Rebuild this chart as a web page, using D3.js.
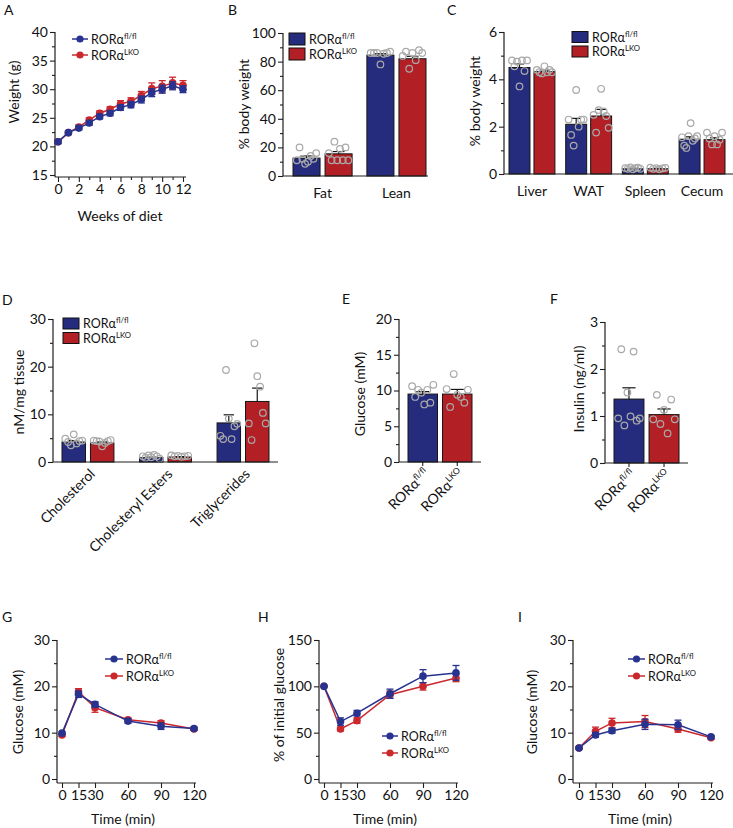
<!DOCTYPE html>
<html><head><meta charset="utf-8">
<script src="https://cdn.jsdelivr.net/npm/d3@7"></script>
<style>
body{margin:0;background:#fff}
svg text{font-family:Lato,"Open Sans",sans-serif;fill:#111}
</style></head><body>
<svg id="fig" width="733" height="828"></svg>
<script>
// ================= DATA =================
// Panel A : body weight over weeks of diet
const weeks = [0,1,2,3,4,5,6,7,8,9,10,11,12];
const weightFl    = [20.8,22.4,23.2,24.1,25.2,25.8,26.8,27.3,28.2,29.4,30.0,30.6,30.0];
const weightFlErr = [0.3,0.3,0.35,0.4,0.4,0.45,0.5,0.55,0.6,0.7,0.7,0.7,0.6];
const weightLko   = [20.8,22.4,23.4,24.6,25.8,26.5,27.4,27.9,28.9,30.1,30.5,31.1,30.7];
const weightLkoErr= [0.3,0.3,0.35,0.4,0.4,0.45,0.6,0.6,0.7,1.0,1.0,1.0,0.8];
const weightXTicks = [0,2,4,6,8,10,12];
const weightYTicks = [15,20,25,30,35,40];

// Panel B : body composition
const compCats = ["Fat","Lean"];
const compFlMean = [12.5,84.5];
const compFlSem  = [1.5,1.0];
const compLkoMean= [15.5,82.0];
const compLkoSem = [1.6,1.7];
const compFlDots = [[11,20,12,8.5,10,14,12,16],[86,86,86,78,85.5,86,87]];
const compLkoDots= [[16,11,24,11,19,11,20,11],[84,87,75,86,81,88,86]];
const compYTicks = [0,20,40,60,80,100];

// Panel C : organ weights
const organCats = ["Liver","WAT","Spleen","Cecum"];
const organFlMean = [4.5,2.1,0.22,1.47];
const organFlSem  = [0.15,0.25,0.02,0.1];
const organLkoMean= [4.33,2.45,0.22,1.45];
const organLkoSem = [0.06,0.28,0.02,0.08];
const organFlDots = [[4.8,4.55,4.75,3.7,4.8,4.35,4.8],[2.3,1.65,1.2,3.55,2.0,2.3,2.3],[0.25,0.22,0.28,0.2,0.25,0.27,0.22],[1.55,1.2,1.1,1.6,2.15,1.4,1.5,1.6]];
const organLkoDots= [[4.4,4.3,4.25,4.55,4.3,4.4,4.3],[2.5,1.75,2.7,3.6,2.65,2.45,1.95],[0.27,0.22,0.25,0.2,0.24,0.26],[1.75,1.5,1.25,1.6,1.25,1.45,1.75]];
const organYTicks = [0,2,4,6];

// Panel D : hepatic lipids
const lipidCats = ["Cholesterol","Cholesteryl Esters","Triglycerides"];
const lipidFlMean = [4.2,0.9,8.2];
const lipidFlSem  = [0.3,0.12,1.7];
const lipidLkoMean= [4.0,1.05,12.7];
const lipidLkoSem = [0.2,0.08,2.8];
const lipidFlDots = [[4.9,4.2,3.5,5.8,3.9,4.4,4.5],[1.2,0.9,1.4,1.0,1.5,1.2,0.7],[5.5,4.8,19.3,9.1,4.8,7.5,8.0]];
const lipidLkoDots= [[4.5,4.4,4.3,3.3,4.0,4.4,4.6],[1.4,1.2,1.3,1.1,1.2,1.3],[8.1,4.6,24.9,18.0,15.8,10.3,8.1]];
const lipidYTicks = [0,10,20,30];

// Panel E : fasting glucose
const glucFlMean = [9.5], glucFlSem = [0.35];
const glucLkoMean= [9.5], glucLkoSem= [0.65];
const glucFlDots = [[10.6,9.1,10.1,9.7,8.05,10.1,8.3,10.8]];
const glucLkoDots= [[10.2,7.7,12.3,9.4,9.1,8.3,10.1]];
const glucYTicks = [0,5,10,15,20];

// Panel F : fasting insulin
const insFlMean = [1.36], insFlSem = [0.24];
const insLkoMean= [1.03], insLkoSem= [0.12];
const insFlDots = [[0.95,2.42,0.8,1.5,0.99,2.37,0.9,0.95]];
const insLkoDots= [[0.93,1.45,0.83,1.13,0.63,1.35,0.93]];
const insYTicks = [0,1,2,3];

// Panels G-I : tolerance tests
const ttTime = [0,15,30,60,90,120];
const gttFl     = [9.9,18.3,16.1,12.5,11.4,10.9];
const gttFlErr  = [0.3,0.7,0.6,0.5,0.7,0.3];
const gttLko    = [9.5,18.8,15.4,12.8,12.1,10.8];
const gttLkoErr = [0.3,0.7,1.0,0.4,0.5,0.3];
const pctFl     = [100,62,71,92,111,114.5];
const pctFlErr  = [0,4,3,5,7,8];
const pctLko    = [100,54,63,91,100,109];
const pctLkoErr = [0,2,3,4,4,4];
const ittFl     = [6.7,9.5,10.4,11.8,11.7,9.1];
const ittFlErr  = [0.2,0.5,0.5,1.1,1.0,0.3];
const ittLko    = [6.7,10.3,12.1,12.4,10.8,8.9];
const ittLkoErr = [0.2,0.9,1.0,1.3,0.7,0.3];
const glucTTYTicks = [0,10,20,30];
const pctYTicks = [0,50,100,150];

const seriesLabels = ["fl/fl","LKO"];

// ================= DRAWING =================
const svg = d3.select("#fig");
const BLUE="#252c7d", RED="#b21f25", LBLUE="#28338f", LRED="#cb282e", AX="#1e1e1e", DOT="#a9a9a9";
const TICKFS=14, LEGFS=12.5;

function mids(t){const r=[];for(let i=0;i<t.length-1;i++)r.push((t[i]+t[i+1])/2);return r;}

function styleAxis(sel){
  sel.selectAll("line").attr("stroke",AX).attr("stroke-width",1.1);
  sel.selectAll("text").attr("font-size",TICKFS).attr("font-family","Lato,'Open Sans',sans-serif").attr("fill","#111");
}

function yAxis(g,y,xPos,major,yEnd){
  const a=g.append("g").attr("transform",`translate(${xPos},0)`)
    .call(d3.axisLeft(y).tickValues(major).tickSize(5).tickSizeOuter(0).tickPadding(2).tickFormat(d3.format("d")));
  a.select(".domain").remove(); styleAxis(a);
  const m=g.append("g").attr("transform",`translate(${xPos},0)`)
    .call(d3.axisLeft(y).tickValues(mids(major)).tickSize(3).tickSizeOuter(0).tickFormat(""));
  m.select(".domain").remove(); styleAxis(m);
  const d=y.domain();
  g.append("line").attr("x1",xPos).attr("x2",xPos).attr("y1",y(d[1])).attr("y2",yEnd!=null?yEnd:y(d[0]))
    .attr("stroke",AX).attr("stroke-width",1.2);
}

function rorText(sel,sup,fs){
  sel.append("tspan").text("RORα");
  sel.append("tspan").text(sup).attr("font-size",fs*0.62).attr("dy",-fs*0.38);
}

function yTitle(g,text,cx,cy){
  g.append("text").attr("transform",`translate(${cx},${cy}) rotate(-90)`)
   .attr("text-anchor","middle").attr("dominant-baseline","central").attr("font-size",TICKFS).text(text);
}

function letter(t,x,y){svg.append("text").attr("x",x).attr("y",y).attr("font-size",14).text(t);}

function boxLegend(g,x,ys,w,h){
  [BLUE,RED].forEach((c,i)=>{
    g.append("rect").attr("x",x).attr("y",ys[i]-h/2).attr("width",w).attr("height",h).attr("fill",c).attr("stroke","#111").attr("stroke-width",1);
    const t=g.append("text").attr("x",x+w+4).attr("y",ys[i]+4.5).attr("font-size",LEGFS);
    rorText(t,seriesLabels[i],LEGFS);
  });
}

function lineLegend(g,x1,x2,ys,order){
  [LBLUE,LRED].forEach((c,i)=>{
    g.append("line").attr("x1",x1).attr("x2",x2).attr("y1",ys[i]).attr("y2",ys[i]).attr("stroke",c).attr("stroke-width",1.5);
    g.append("circle").attr("cx",(x1+x2)/2).attr("cy",ys[i]).attr("r",3.6).attr("fill",c);
    const t=g.append("text").attr("x",x2+3).attr("y",ys[i]+4.5).attr("font-size",LEGFS);
    rorText(t,seriesLabels[i],LEGFS);
  });
}

function barPanel(c){
  const g=svg.append("g");
  const y=d3.scaleLinear().domain(c.yDomain).range(c.yRange);
  const x=d3.scaleBand().domain(c.cats).range(c.xRange).paddingInner(c.padG||0).paddingOuter(0);
  const xs=d3.scaleBand().domain(["fl","lko"]).range([0,x.bandwidth()]).paddingInner(c.padS);
  const series=[{k:"fl",m:c.flMean,s:c.flSem,d:c.flDots,col:BLUE},{k:"lko",m:c.lkoMean,s:c.lkoSem,d:c.lkoDots,col:RED}];
  const bw=xs.bandwidth();
  series.forEach(S=>{
    c.cats.forEach((cat,i)=>{
      const bx=x(cat)+xs(S.k);
      g.append("rect").attr("x",bx).attr("y",y(S.m[i])).attr("width",bw).attr("height",y(0)-y(S.m[i]))
        .attr("fill",S.col).attr("stroke","#161616").attr("stroke-width",1);
      const cx=bx+bw/2, top=y(S.m[i]+S.s[i]);
      g.append("line").attr("x1",cx).attr("x2",cx).attr("y1",y(S.m[i])).attr("y2",top).attr("stroke","#161616").attr("stroke-width",1.2);
      g.append("line").attr("x1",cx-bw*0.22).attr("x2",cx+bw*0.22).attr("y1",top).attr("y2",top).attr("stroke","#161616").attr("stroke-width",1.2);
    });
  });
  series.forEach(S=>{
    c.cats.forEach((cat,i)=>{
      const bx=x(cat)+xs(S.k), cx=bx+bw/2, vals=S.d[i], n=vals.length;
      vals.forEach((v,j)=>{
        const off=n>1?(j/(n-1)-0.5)*bw*0.72:0;
        g.append("circle").attr("cx",cx+off).attr("cy",y(v)).attr("r",3.3)
          .attr("fill","none").attr("stroke",DOT).attr("stroke-width",1.2);
      });
    });
  });
  // x axis
  g.append("line").attr("x1",c.axisX).attr("x2",x.range()[1]+c.axisExtra).attr("y1",y(0)).attr("y2",y(0)).attr("stroke",AX).attr("stroke-width",1.2);
  yAxis(g,y,c.axisX,c.yTicks);
  if(c.yTitle) yTitle(g,c.yTitle,c.yTitleX,c.yTitleY);
  if(c.catMode==="flat"){
    c.cats.forEach(cat=>{
      g.append("text").attr("x",x(cat)+x.bandwidth()/2).attr("y",y(0)+22).attr("text-anchor","middle").attr("font-size",TICKFS).text(cat);
    });
  } else if(c.catMode==="rot"){
    c.cats.forEach(cat=>{
      const cx=x(cat)+x.bandwidth()/2;
      g.append("text").attr("transform",`translate(${cx+4},${y(0)+9}) rotate(-45)`)
        .attr("text-anchor","end").attr("dominant-baseline","central").attr("font-size",TICKFS).text(cat);
    });
  } else if(c.catMode==="series"){
    series.forEach((S,i)=>{
      const cx=x(c.cats[0])+xs(S.k)+bw/2;
      g.append("line").attr("x1",cx).attr("x2",cx).attr("y1",y(0)).attr("y2",y(0)+4).attr("stroke",AX).attr("stroke-width",1.1);
      const t=g.append("text").attr("transform",`translate(${cx+4},${y(0)+9}) rotate(-45)`)
        .attr("text-anchor","end").attr("font-size",TICKFS).attr("dy","0.35em");
      rorText(t,seriesLabels[i],TICKFS);
    });
  }
  if(c.legend) boxLegend(g,c.legend.x,c.legend.ys,16,c.legend.h);
  return g;
}

function linePanel(c){
  const g=svg.append("g");
  const x=d3.scaleLinear().domain(c.xDomain).range(c.xRange);
  const y=d3.scaleLinear().domain(c.yDomain).range(c.yRange);
  const axY=c.xAxisY;
  // x axis
  g.append("line").attr("x1",c.axisX).attr("x2",x(c.xDomain[1])+c.axisExtra).attr("y1",axY).attr("y2",axY).attr("stroke",AX).attr("stroke-width",1.2);
  const xa=g.append("g").attr("transform",`translate(0,${axY})`)
    .call(d3.axisBottom(x).tickValues(c.xTicks).tickSize(5).tickSizeOuter(0).tickPadding(2).tickFormat(d3.format("d")));
  xa.select(".domain").remove(); styleAxis(xa);
  if(c.xMinor){
    const xm=g.append("g").attr("transform",`translate(0,${axY})`)
      .call(d3.axisBottom(x).tickValues(c.xMinor).tickSize(3).tickSizeOuter(0).tickFormat(""));
    xm.select(".domain").remove(); styleAxis(xm);
  }
  yAxis(g,y,c.axisX,c.yTicks,axY);
  yTitle(g,c.yTitle,c.yTitleX,c.yTitleY);
  g.append("text").attr("x",c.xTitleX).attr("y",c.xTitleY).attr("text-anchor","middle").attr("dominant-baseline","central").attr("font-size",TICKFS).text(c.xTitle);
  const line=d3.line().x(d=>x(d[0])).y(d=>y(d[1]));
  const series=[{v:c.lko,e:c.lkoErr,col:LRED},{v:c.fl,e:c.flErr,col:LBLUE}];
  series.forEach(S=>{
    const pts=c.xs.map((t,i)=>[t,S.v[i]]);
    g.append("path").datum(pts).attr("d",line).attr("fill","none").attr("stroke",S.col).attr("stroke-width",1.5);
    pts.forEach((p,i)=>{
      const e=S.e[i]; if(e>0){
        const px=x(p[0]), y1=y(p[1]+e), y2=y(p[1]-e);
        g.append("line").attr("x1",px).attr("x2",px).attr("y1",y1).attr("y2",y2).attr("stroke",S.col).attr("stroke-width",1.3);
        [y1,y2].forEach(yy=>g.append("line").attr("x1",px-3.5).attr("x2",px+3.5).attr("y1",yy).attr("y2",yy).attr("stroke",S.col).attr("stroke-width",1.3));
      }
      g.append("circle").attr("cx",x(p[0])).attr("cy",y(p[1])).attr("r",3.8).attr("fill",S.col);
    });
  });
  lineLegend(g,c.legend.x1,c.legend.x2,c.legend.ys);
}

// ---- Panel A
letter("A",4,15);
linePanel({xDomain:[0,12],xRange:[58,183],yDomain:[15,40],yRange:[175,32],xAxisY:177,axisX:55,axisExtra:3,
  xTicks:weightXTicks,xMinor:weeks.filter(w=>w%2===1),yTicks:weightYTicks,
  yTitle:"Weight (g)",yTitleX:13,yTitleY:92,xTitle:"Weeks of diet",xTitleX:120,xTitleY:215,
  xs:weeks,fl:weightFl,flErr:weightFlErr,lko:weightLko,lkoErr:weightLkoErr,
  legend:{x1:72,x2:88,ys:[39,55]}});

// ---- Panel B
letter("B",228,15);
barPanel({cats:compCats,yDomain:[0,100],yRange:[176,33],xRange:[293,426],padG:0.2,padS:0.156,axisX:283,axisExtra:2,
  flMean:compFlMean,flSem:compFlSem,lkoMean:compLkoMean,lkoSem:compLkoSem,flDots:compFlDots,lkoDots:compLkoDots,
  yTicks:compYTicks,yTitle:"% body weight",yTitleX:243,yTitleY:104,catMode:"flat",legend:{x:289,ys:[39,54],h:12}});

// ---- Panel C
letter("C",447,15);
barPanel({cats:organCats,yDomain:[0,6],yRange:[174,32],xRange:[509,725],padG:0.19,padS:0.16,axisX:504,axisExtra:8,
  flMean:organFlMean,flSem:organFlSem,lkoMean:organLkoMean,lkoSem:organLkoSem,flDots:organFlDots,lkoDots:organLkoDots,
  yTicks:organYTicks,yTitle:"% body weight",yTitleX:474,yTitleY:101,catMode:"flat",legend:{x:572,ys:[37,51.5],h:11}});

// ---- Panel D
letter("D",2,305);
barPanel({cats:lipidCats,yDomain:[0,30],yRange:[462,319],xRange:[62,269],padG:0.33,padS:0.175,axisX:53,axisExtra:9,
  flMean:lipidFlMean,flSem:lipidFlSem,lkoMean:lipidLkoMean,lkoSem:lipidLkoSem,flDots:lipidFlDots,lkoDots:lipidLkoDots,
  yTicks:lipidYTicks,yTitle:"nM/mg tissue",yTitleX:18,yTitleY:392,catMode:"rot",legend:{x:63,ys:[323.5,338],h:11}});

// ---- Panel E
letter("E",342,304);
barPanel({cats:["g"],yDomain:[0,20],yRange:[462,319],xRange:[408,472],padS:0.145,axisX:399,axisExtra:9,
  flMean:glucFlMean,flSem:glucFlSem,lkoMean:glucLkoMean,lkoSem:glucLkoSem,flDots:glucFlDots,lkoDots:glucLkoDots,
  yTicks:glucYTicks,yTitle:"Glucose (mM)",yTitleX:359,yTitleY:394,catMode:"series"});

// ---- Panel F
letter("F",550,304);
barPanel({cats:["i"],yDomain:[0,3],yRange:[463,322],xRange:[614,679],padS:0.145,axisX:605,axisExtra:9,
  flMean:insFlMean,flSem:insFlSem,lkoMean:insLkoMean,lkoSem:insLkoSem,flDots:insFlDots,lkoDots:insLkoDots,
  yTicks:insYTicks,yTitle:"Insulin (ng/ml)",yTitleX:578,yTitleY:389,catMode:"series"});

// ---- Panel G
letter("G",2,622);
linePanel({xDomain:[0,120],xRange:[62,194],yDomain:[0,30],yRange:[779,640],xAxisY:783,axisX:57,axisExtra:2,
  xTicks:ttTime,yTicks:glucTTYTicks,yTitle:"Glucose (mM)",yTitleX:17,yTitleY:712,xTitle:"Time (min)",xTitleX:123,xTitleY:818,
  xs:ttTime,fl:gttFl,flErr:gttFlErr,lko:gttLko,lkoErr:gttLkoErr,legend:{x1:105,x2:123,ys:[659,676]}});

// ---- Panel H
letter("H",258,622);
linePanel({xDomain:[0,120],xRange:[324,456],yDomain:[0,150],yRange:[779,640],xAxisY:783,axisX:319,axisExtra:2,
  xTicks:ttTime,yTicks:pctYTicks,yTitle:"% of  initial glucose",yTitleX:278,yTitleY:705,xTitle:"Time (min)",xTitleX:385,xTitleY:818,
  xs:ttTime,fl:pctFl,flErr:pctFlErr,lko:pctLko,lkoErr:pctLkoErr,legend:{x1:382,x2:398,ys:[736,753]}});

// ---- Panel I
letter("I",518,622);
linePanel({xDomain:[0,120],xRange:[579,711],yDomain:[0,30],yRange:[779,640],xAxisY:783,axisX:573,axisExtra:2,
  xTicks:ttTime,yTicks:glucTTYTicks,yTitle:"Glucose (mM)",yTitleX:531,yTitleY:712,xTitle:"Time (min)",xTitleX:640,xTitleY:818,
  xs:ttTime,fl:ittFl,flErr:ittFlErr,lko:ittLko,lkoErr:ittLkoErr,legend:{x1:628,x2:645,ys:[659,676]}});
</script>
</body></html>
